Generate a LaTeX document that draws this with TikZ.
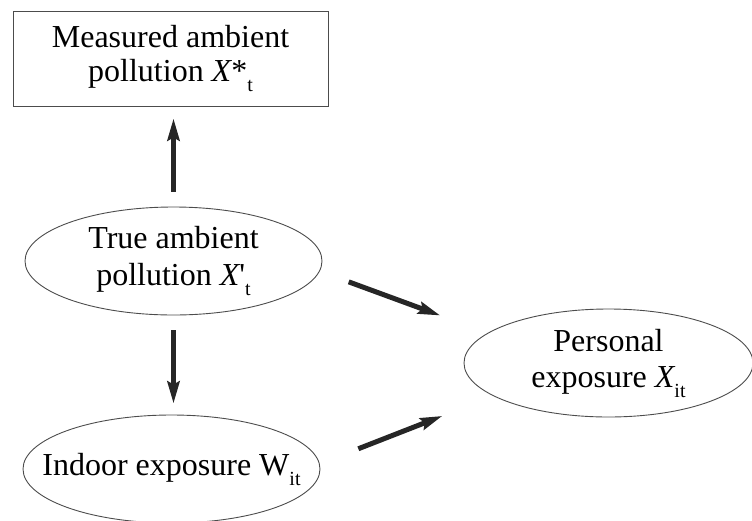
\documentclass[tikz,border=0pt]{standalone}
\usepackage{fontspec}
\setmainfont{Liberation Serif}
\usetikzlibrary{shapes.geometric,arrows.meta}
\newcommand\lowsub[1]{\raisebox{-10pt}{\fontsize{20}{20}\selectfont #1}}
\begin{document}
\begin{tikzpicture}[x=1pt,y=-1pt,
  lbl/.style={align=center,font=\fontsize{32}{36}\selectfont,inner sep=0pt},
  oval/.style={lbl,ellipse,draw=black!70,line width=0.9pt,minimum width=297pt,minimum height=108pt},
  rbox/.style={lbl,rectangle,draw=black!70,line width=0.9pt,minimum width=315pt,minimum height=95pt},
  bigarrow/.style={draw=black!85,line width=5pt,-{Stealth[length=22pt,width=12pt,inset=3pt]}}
]
\useasboundingbox (0,0) rectangle (752,520);
\node[rbox] (m) at (170.5,58.5) {Measured ambient\\[-2pt]pollution {\itshape X}*\lowsub{t}};
\node[oval] (t) at (173.5,261) {True ambient\\[1pt]pollution {\itshape X}\textquotesingle\lowsub{t}};
\node[oval] (i) at (171.5,469) {\makebox[0pt]{Indoor exposure W\lowsub{it}}};
\node[oval,minimum width=289pt] (p) at (608.5,363) {Personal\\exposure {\itshape X}\lowsub{it}};
\draw[bigarrow,shorten <=15pt,shorten >=12pt] (t.north) -- (t.north |- m.south);
\draw[bigarrow,shorten <=15pt,shorten >=11pt] (t.south) -- (t.south |- i.north);
\draw[bigarrow,shorten <=30.8pt,shorten >=50.5pt] (t.-4.5) -- (p.166.2);
\draw[bigarrow,shorten <=41.4pt,shorten >=54.6pt] (i.2) -- (p.196.6);
\end{tikzpicture}
\end{document}
